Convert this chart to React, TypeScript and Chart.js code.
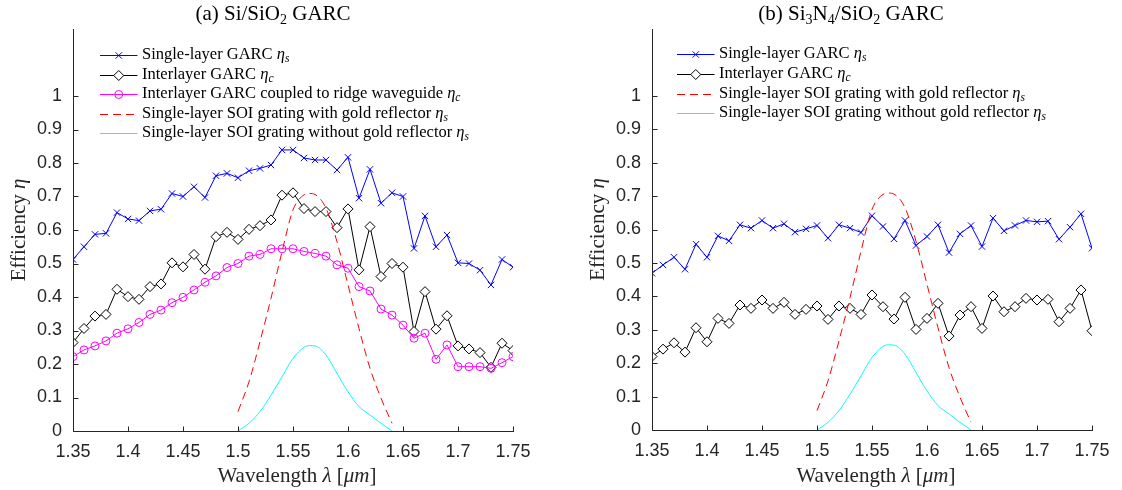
import React, { useEffect, useRef } from 'react';
import { Chart, registerables } from 'chart.js';

Chart.register(...registerables);

// ---------------- data ----------------
const wavelengths = [
  1.35, 1.36, 1.37, 1.38, 1.39, 1.4, 1.41, 1.42, 1.43, 1.44, 1.45, 1.46, 1.47, 1.48,
  1.49, 1.5, 1.51, 1.52, 1.53, 1.54, 1.55, 1.56, 1.57, 1.58, 1.59, 1.6, 1.61, 1.62,
  1.63, 1.64, 1.65, 1.66, 1.67, 1.68, 1.69, 1.7, 1.71, 1.72, 1.73, 1.74, 1.75,
];

const xTickValues = [1.35, 1.4, 1.45, 1.5, 1.55, 1.6, 1.65, 1.7, 1.75];
const xTickLabels = ['1.35', '1.4', '1.45', '1.5', '1.55', '1.6', '1.65', '1.7', '1.75'];
const yTickValues = [0, 0.1, 0.2, 0.3, 0.4, 0.5, 0.6, 0.7, 0.8, 0.9, 1];
const yTickLabels = ['0', '0.1', '0.2', '0.3', '0.4', '0.5', '0.6', '0.7', '0.8', '0.9', '1'];

// (a) Si/SiO2 GARC
const siSingleEta = [
  0.512, 0.55, 0.587, 0.59, 0.652, 0.633, 0.628, 0.657, 0.662, 0.709, 0.7, 0.729, 0.697, 0.762,
  0.769, 0.756, 0.777, 0.784, 0.794, 0.839, 0.839, 0.815, 0.809, 0.809, 0.779, 0.817, 0.695, 0.781,
  0.68, 0.711, 0.7, 0.545, 0.642, 0.55, 0.585, 0.502, 0.5, 0.48, 0.436, 0.512, 0.489,
];
const siInterEta = [
  0.264, 0.306, 0.343, 0.348, 0.423, 0.401, 0.393, 0.431, 0.439, 0.502, 0.49, 0.527, 0.483, 0.58,
  0.593, 0.572, 0.602, 0.613, 0.63, 0.704, 0.711, 0.664, 0.655, 0.655, 0.607, 0.663, 0.481, 0.61,
  0.461, 0.5, 0.489, 0.297, 0.416, 0.304, 0.344, 0.254, 0.245, 0.234, 0.19, 0.262, 0.24,
];
const siRidgeEta = [
  0.222, 0.242, 0.254, 0.269, 0.292, 0.305, 0.324, 0.348, 0.361, 0.383, 0.399, 0.421, 0.444, 0.463,
  0.488, 0.5, 0.522, 0.527, 0.544, 0.544, 0.544, 0.536, 0.53, 0.522, 0.496, 0.486, 0.431, 0.418,
  0.364, 0.346, 0.316, 0.277, 0.292, 0.214, 0.257, 0.192, 0.192, 0.192, 0.187, 0.204, 0.222,
];

// (b) Si3N4/SiO2 GARC
const nitrideSingleEta = [
  0.469, 0.494, 0.517, 0.481, 0.556, 0.517, 0.581, 0.566, 0.614, 0.604, 0.627, 0.604, 0.617, 0.592,
  0.602, 0.612, 0.574, 0.614, 0.604, 0.591, 0.641, 0.609, 0.572, 0.627, 0.552, 0.579, 0.614, 0.531,
  0.587, 0.612, 0.549, 0.634, 0.596, 0.612, 0.627, 0.623, 0.625, 0.571, 0.607, 0.647, 0.544,
];
const nitrideInterEta = [
  0.22, 0.242, 0.261, 0.233, 0.306, 0.264, 0.334, 0.319, 0.374, 0.364, 0.389, 0.364, 0.382, 0.346,
  0.361, 0.371, 0.331, 0.371, 0.364, 0.346, 0.404, 0.369, 0.332, 0.397, 0.301, 0.334, 0.379, 0.281,
  0.344, 0.369, 0.304, 0.401, 0.354, 0.369, 0.394, 0.389, 0.391, 0.324, 0.364, 0.419, 0.297,
];

// SOI grating references (same in both panels)
const soiWavelengths = [1.5, 1.51, 1.52, 1.53, 1.54, 1.55, 1.56, 1.565, 1.57, 1.58, 1.59, 1.6, 1.61, 1.62, 1.63, 1.64];
const soiGoldEta = [0.058, 0.147, 0.267, 0.396, 0.535, 0.66, 0.705, 0.709, 0.706, 0.665, 0.565, 0.436, 0.306, 0.187, 0.098, 0.023];
const soiNoGoldEta = [0, 0.023, 0.058, 0.107, 0.162, 0.217, 0.25, 0.255, 0.254, 0.227, 0.172, 0.117, 0.073, 0.048, 0.023, 0];

// ---------------- styling ----------------
const SERIF = '"Liberation Serif", "DejaVu Serif", serif';
const SANS = '"Liberation Sans", Arial, Helvetica, sans-serif';
const AXIS_COLOR = '#262626';

const BLUE = '#0000ff';
const BLACK = '#000000';
const MAGENTA = '#ff00ff';
const RED = '#ff0000';
const CYAN = '#00ffff';

type Marker = 'x' | 'diamond' | 'circle' | 'none';
interface LegendEntry {
  text: string;
  sub: string;
  color: string;
  marker: Marker;
  dash?: number[];
}
interface Seg {
  t: string;
  font: string;
  dy?: number;
}

const pairs = (xs: number[], ys: number[]) => xs.map((x, i) => ({ x, y: ys[i] }));

function markerDataset(label: string, ys: number[], color: string, marker: Marker, order: number) {
  const base: any = {
    label,
    data: pairs(wavelengths, ys),
    borderColor: color,
    borderWidth: 1,
    pointBorderColor: color,
    pointBorderWidth: 1,
    tension: 0,
    order,
  };
  if (marker === 'x') {
    base.pointStyle = 'crossRot';
    base.pointRadius = 4.5;
    base.pointBackgroundColor = color;
  } else if (marker === 'diamond') {
    base.pointStyle = 'rectRot';
    base.pointRadius = 5;
    base.pointBackgroundColor = '#ffffff';
  } else {
    base.pointStyle = 'circle';
    base.pointRadius = 4;
    base.pointBackgroundColor = 'rgba(0,0,0,0)';
  }
  return base;
}

function curveDataset(label: string, ys: number[], color: string, dash: number[] | undefined, order: number) {
  return {
    label,
    data: pairs(soiWavelengths, ys),
    borderColor: color,
    borderWidth: 1,
    borderDash: dash || [],
    pointRadius: 0,
    cubicInterpolationMode: 'monotone',
    order,
  } as any;
}

function drawMarker(ctx: CanvasRenderingContext2D, m: Marker, x: number, y: number, color: string) {
  ctx.save();
  ctx.strokeStyle = color;
  ctx.lineWidth = 1;
  ctx.setLineDash([]);
  if (m === 'x') {
    const d = 4.5 * Math.SQRT1_2;
    ctx.beginPath();
    ctx.moveTo(x - d, y - d);
    ctx.lineTo(x + d, y + d);
    ctx.moveTo(x + d, y - d);
    ctx.lineTo(x - d, y + d);
    ctx.stroke();
  } else if (m === 'diamond') {
    const r = 5;
    ctx.beginPath();
    ctx.moveTo(x - r, y);
    ctx.lineTo(x, y - r);
    ctx.lineTo(x + r, y);
    ctx.lineTo(x, y + r);
    ctx.closePath();
    ctx.fillStyle = '#ffffff';
    ctx.fill();
    ctx.stroke();
  } else if (m === 'circle') {
    ctx.beginPath();
    ctx.arc(x, y, 4, 0, Math.PI * 2);
    ctx.stroke();
  }
  ctx.restore();
}

function segsWidth(ctx: CanvasRenderingContext2D, segs: Seg[]) {
  let w = 0;
  for (const s of segs) {
    ctx.font = s.font;
    w += ctx.measureText(s.t).width;
  }
  return w;
}

function drawSegs(ctx: CanvasRenderingContext2D, segs: Seg[], x: number, baseline: number) {
  let cx = x;
  for (const s of segs) {
    ctx.font = s.font;
    ctx.fillText(s.t, cx, baseline + (s.dy || 0));
    cx += ctx.measureText(s.t).width;
  }
}

const TITLE_FONT = `21px ${SERIF}`;
const TITLE_SUB = `14px ${SERIF}`;
const LABEL_FONT = `21px ${SERIF}`;
const LABEL_IT = `italic 21px ${SERIF}`;

const xTitleSegs: Seg[] = [
  { t: 'Wavelength ', font: LABEL_FONT },
  { t: 'λ', font: LABEL_IT },
  { t: ' [', font: LABEL_FONT },
  { t: 'μm', font: LABEL_IT },
  { t: ']', font: LABEL_FONT },
];
const yTitleSegs: Seg[] = [
  { t: 'Efficiency ', font: LABEL_FONT },
  { t: 'η', font: LABEL_IT },
];

interface PanelConfig {
  width: number;
  height: number;
  yAxisWidth: number;
  xAxisHeight: number;
  padRight: number;
  padTop: number;
  yTitleBaseX: number;
  titleX: number;
  titleSegs: Seg[];
  legendX: number;
  legendY: number;
  legendStep: number;
  legend: LegendEntry[];
  datasets: any[];
}

function makeDecorPlugin(cfg: PanelConfig) {
  return {
    id: 'matlabDecor',
    afterDraw(chart: any) {
      const ctx: CanvasRenderingContext2D = chart.ctx;
      const xs = chart.scales.x;
      const ys = chart.scales.y;
      const area = chart.chartArea;
      ctx.save();
      ctx.setLineDash([]);
      ctx.globalAlpha = 1;
      ctx.strokeStyle = AXIS_COLOR;
      ctx.lineWidth = 1;
      const ax = Math.round(area.left) + 0.5;
      const ay = Math.round(area.bottom) + 0.5;
      // axis lines (box off, left + bottom only)
      ctx.beginPath();
      ctx.moveTo(ax, Math.round(area.top));
      ctx.lineTo(ax, ay);
      ctx.lineTo(Math.round(area.right) + 1, ay);
      ctx.stroke();
      // inward tick marks
      ctx.beginPath();
      for (const v of xTickValues) {
        const px = Math.round(xs.getPixelForValue(v)) + 0.5;
        ctx.moveTo(px, ay);
        ctx.lineTo(px, ay - 5);
      }
      for (const v of yTickValues) {
        const py = Math.round(ys.getPixelForValue(v)) + 0.5;
        ctx.moveTo(ax, py);
        ctx.lineTo(ax + 5, py);
      }
      ctx.stroke();

      ctx.textAlign = 'left';
      ctx.textBaseline = 'alphabetic';

      // panel title
      ctx.fillStyle = '#000000';
      const tw = segsWidth(ctx, cfg.titleSegs);
      drawSegs(ctx, cfg.titleSegs, cfg.titleX - tw / 2, 20);

      // axis titles
      ctx.fillStyle = AXIS_COLOR;
      const xcw = segsWidth(ctx, xTitleSegs);
      const xc = (area.left + area.right) / 2 + 4;
      drawSegs(ctx, xTitleSegs, xc - xcw / 2, 482);

      const ycw = segsWidth(ctx, yTitleSegs);
      ctx.save();
      ctx.translate(cfg.yTitleBaseX, (area.top + area.bottom) / 2);
      ctx.rotate(-Math.PI / 2);
      drawSegs(ctx, yTitleSegs, -ycw / 2, 0);
      ctx.restore();

      // legend
      cfg.legend.forEach((e, i) => {
        const ly = cfg.legendY + i * cfg.legendStep;
        const lyp = Math.round(ly) + 0.5;
        ctx.save();
        ctx.strokeStyle = e.color;
        ctx.lineWidth = 1;
        ctx.setLineDash(e.dash || []);
        ctx.beginPath();
        ctx.moveTo(cfg.legendX, lyp);
        ctx.lineTo(cfg.legendX + 37.5, lyp);
        ctx.stroke();
        ctx.restore();
        drawMarker(ctx, e.marker, cfg.legendX + 18.75, lyp, e.color);
        ctx.fillStyle = '#000000';
        drawSegs(
          ctx,
          [
            { t: e.text, font: `16.5px ${SERIF}` },
            { t: 'η', font: `italic 16.5px ${SERIF}` },
            { t: e.sub, font: `italic 11.5px ${SERIF}`, dy: 3 },
          ],
          cfg.legendX + 42,
          ly + 4
        );
      });
      ctx.restore();
    },
  };
}

function Panel({ cfg }: { cfg: PanelConfig }) {
  const ref = useRef<HTMLCanvasElement | null>(null);
  useEffect(() => {
    if (!ref.current) return;
    const chart = new Chart(ref.current, {
      type: 'line',
      data: { datasets: cfg.datasets },
      options: {
        responsive: false,
        animation: false,
        events: [],
        devicePixelRatio: 1,
        layout: { padding: { left: 0, right: cfg.padRight, top: cfg.padTop, bottom: 0 } },
        plugins: {
          legend: { display: false },
          title: { display: false },
          tooltip: { enabled: false },
        },
        scales: {
          x: {
            type: 'linear',
            min: 1.35,
            max: 1.75,
            afterFit: (s: any) => {
              s.height = cfg.xAxisHeight;
            },
            afterBuildTicks: (s: any) => {
              s.ticks = xTickValues.map((value) => ({ value }));
            },
            grid: { display: false, drawTicks: false },
            border: { display: false },
            ticks: {
              color: AXIS_COLOR,
              font: { family: SANS, size: 18 },
              padding: 10,
              maxRotation: 0,
              autoSkip: false,
              callback: (_v: any, i: number) => xTickLabels[i],
            },
            title: { display: false },
          },
          y: {
            type: 'linear',
            min: 0,
            max: 1.2,
            afterFit: (s: any) => {
              s.width = cfg.yAxisWidth;
            },
            afterBuildTicks: (s: any) => {
              s.ticks = yTickValues.map((value) => ({ value }));
            },
            grid: { display: false, drawTicks: false },
            border: { display: false },
            ticks: {
              color: AXIS_COLOR,
              font: { family: SANS, size: 18 },
              padding: 11,
              autoSkip: false,
              callback: (_v: any, i: number) => yTickLabels[i],
            },
            title: { display: false },
          },
        },
      } as any,
      plugins: [makeDecorPlugin(cfg)],
    });
    return () => chart.destroy();
  }, [cfg]);
  return <canvas ref={ref} width={cfg.width} height={cfg.height} style={{ display: 'block' }} />;
}

const legendA: LegendEntry[] = [
  { text: 'Single-layer GARC ', sub: 's', color: BLUE, marker: 'x' },
  { text: 'Interlayer GARC ', sub: 'c', color: BLACK, marker: 'diamond' },
  { text: 'Interlayer GARC coupled to ridge waveguide ', sub: 'c', color: MAGENTA, marker: 'circle' },
  { text: 'Single-layer SOI grating with gold reflector ', sub: 's', color: RED, marker: 'none', dash: [8, 5] },
  { text: 'Single-layer SOI grating without gold reflector ', sub: 's', color: CYAN, marker: 'none' },
];
const legendB: LegendEntry[] = [
  { text: 'Single-layer GARC ', sub: 's', color: BLUE, marker: 'x' },
  { text: 'Interlayer GARC ', sub: 'c', color: BLACK, marker: 'diamond' },
  { text: 'Single-layer SOI grating with gold reflector ', sub: 's', color: RED, marker: 'none', dash: [8, 5] },
  { text: 'Single-layer SOI grating without gold reflector ', sub: 's', color: CYAN, marker: 'none' },
];

const panelA: PanelConfig = {
  width: 560,
  height: 490,
  yAxisWidth: 73,
  xAxisHeight: 59,
  padRight: 47,
  padTop: 29,
  yTitleBaseX: 25,
  titleX: 273,
  titleSegs: [
    { t: '(a) Si/SiO', font: TITLE_FONT },
    { t: '2', font: TITLE_SUB, dy: 4 },
    { t: ' GARC', font: TITLE_FONT },
  ],
  legendX: 100,
  legendY: 55,
  legendStep: 19.6,
  legend: legendA,
  datasets: [
    markerDataset('Single-layer GARC', siSingleEta, BLUE, 'x', 0),
    markerDataset('Interlayer GARC', siInterEta, BLACK, 'diamond', -1),
    markerDataset('Interlayer GARC coupled to ridge waveguide', siRidgeEta, MAGENTA, 'circle', -2),
    curveDataset('Single-layer SOI grating with gold reflector', soiGoldEta, RED, [8, 5], -3),
    curveDataset('Single-layer SOI grating without gold reflector', soiNoGoldEta, CYAN, undefined, -4),
  ],
};

const panelB: PanelConfig = {
  width: 562,
  height: 490,
  yAxisWidth: 92,
  xAxisHeight: 60,
  padRight: 30,
  padTop: 29,
  yTitleBaseX: 44,
  titleX: 291,
  titleSegs: [
    { t: '(b) Si', font: TITLE_FONT },
    { t: '3', font: TITLE_SUB, dy: 4 },
    { t: 'N', font: TITLE_FONT },
    { t: '4', font: TITLE_SUB, dy: 4 },
    { t: '/SiO', font: TITLE_FONT },
    { t: '2', font: TITLE_SUB, dy: 4 },
    { t: ' GARC', font: TITLE_FONT },
  ],
  legendX: 117,
  legendY: 54,
  legendStep: 19.8,
  legend: legendB,
  datasets: [
    markerDataset('Single-layer GARC', nitrideSingleEta, BLUE, 'x', 0),
    markerDataset('Interlayer GARC', nitrideInterEta, BLACK, 'diamond', -1),
    curveDataset('Single-layer SOI grating with gold reflector', soiGoldEta, RED, [8, 5], -3),
    curveDataset('Single-layer SOI grating without gold reflector', soiNoGoldEta, CYAN, undefined, -4),
  ],
};

export default function App() {
  return (
    <div
      style={{
        position: 'fixed',
        left: 0,
        top: 0,
        width: 1122,
        height: 490,
        background: '#ffffff',
        display: 'flex',
        flexDirection: 'row',
      }}
    >
      <Panel cfg={panelA} />
      <Panel cfg={panelB} />
    </div>
  );
}
